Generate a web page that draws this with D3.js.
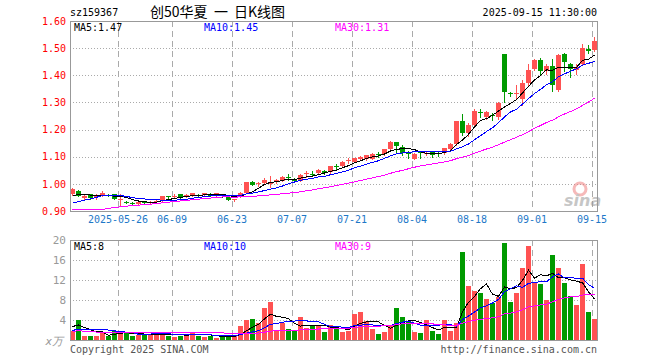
<!DOCTYPE html>
<html lang="zh">
<head>
<meta charset="UTF-8">
<title>创50华夏 日K线图</title>
<script src="https://cdn.jsdelivr.net/npm/d3@7/dist/d3.min.js"></script>
<style>
  body { margin: 0; background: #fff; }
  svg { display: block; font-family: "DejaVu Sans Mono", monospace; }
</style>
</head>
<body>
<svg width="660" height="360"></svg>
<script>
// trading days 2025-05-14 .. 2025-09-15
const dates = [
  '05-14','05-15','05-16','05-19','05-20','05-21','05-22','05-23','05-26','05-27','05-28','05-29','05-30',
  '06-03','06-04','06-05','06-06','06-09','06-10','06-11','06-12','06-13','06-16','06-17','06-18','06-19','06-20',
  '06-23','06-24','06-25','06-26','06-27','06-30',
  '07-01','07-02','07-03','07-04','07-07','07-08','07-09','07-10','07-11','07-14','07-15','07-16','07-17','07-18',
  '07-21','07-22','07-23','07-24','07-25','07-28','07-29','07-30','07-31',
  '08-01','08-04','08-05','08-06','08-07','08-08','08-11','08-12','08-13','08-14','08-15','08-18','08-19','08-20',
  '08-21','08-22','08-25','08-26','08-27','08-28','08-29',
  '09-01','09-02','09-03','09-04','09-05','09-08','09-09','09-10','09-11','09-12','09-15'
];

const open = [
  0.962,0.974,0.948,0.961,0.952,0.956,0.960,0.961,0.942,0.934,
  0.931,0.926,0.934,0.931,0.933,0.940,0.954,0.953,0.962,0.953,
  0.957,0.960,0.958,0.963,0.959,0.962,0.951,0.941,0.953,0.968,
  1.008,1.001,1.003,1.000,1.006,1.012,1.024,1.018,1.012,1.037,
  1.038,1.039,1.047,1.043,1.064,1.064,1.085,1.081,1.090,1.091,
  1.093,1.110,1.109,1.130,1.154,1.136,1.114,1.093,1.116,1.111,
  1.119,1.112,1.113,1.128,1.147,1.230,1.187,1.218,1.266,1.248,
  1.252,1.246,1.479,1.334,1.330,1.313,1.371,1.422,1.455,1.415,
  1.436,1.345,1.477,1.442,1.421,1.440,1.497,1.492
];
const high = [
  0.986,0.976,0.958,0.963,0.962,0.973,0.963,0.964,0.962,0.937,
  0.934,0.936,0.936,0.937,0.940,0.957,0.957,0.962,0.963,0.961,
  0.966,0.962,0.967,0.965,0.968,0.964,0.952,0.946,0.970,1.008,
  1.010,1.006,1.020,1.029,1.018,1.028,1.036,1.020,1.036,1.048,
  1.049,1.056,1.050,1.066,1.072,1.083,1.095,1.096,1.102,1.108,
  1.112,1.118,1.130,1.157,1.156,1.143,1.120,1.113,1.120,1.117,
  1.121,1.116,1.133,1.149,1.232,1.258,1.224,1.277,1.275,1.268,
  1.260,1.300,1.479,1.340,1.365,1.383,1.441,1.459,1.464,1.440,
  1.461,1.477,1.483,1.445,1.440,1.514,1.510,1.540
];
const low = [
  0.960,0.954,0.945,0.945,0.944,0.954,0.955,0.943,0.921,0.928,
  0.925,0.923,0.928,0.929,0.931,0.938,0.949,0.950,0.949,0.951,
  0.955,0.955,0.956,0.955,0.957,0.953,0.939,0.936,0.951,0.966,
  0.995,0.993,1.001,0.988,1.004,1.010,1.013,1.008,1.010,1.027,
  1.030,1.037,1.037,1.041,1.052,1.062,1.078,1.079,1.088,1.089,
  1.091,1.100,1.107,1.128,1.118,1.106,1.096,1.090,1.097,1.105,
  1.100,1.104,1.111,1.126,1.145,1.181,1.175,1.209,1.245,1.238,
  1.236,1.240,1.300,1.322,1.318,1.291,1.360,1.418,1.405,1.403,
  1.342,1.342,1.415,1.393,1.403,1.437,1.483,1.490
];
const close = [
  0.980,0.957,0.954,0.948,0.954,0.968,0.958,0.946,0.944,0.932,
  0.929,0.933,0.931,0.934,0.937,0.955,0.952,0.955,0.951,0.958,
  0.965,0.958,0.966,0.957,0.966,0.956,0.941,0.944,0.968,1.006,
  0.997,1.003,1.015,1.008,1.015,1.024,1.022,1.010,1.033,1.040,
  1.036,1.051,1.040,1.064,1.062,1.081,1.088,1.094,1.100,1.105,
  1.109,1.108,1.128,1.155,1.140,1.113,1.112,1.111,1.114,1.113,
  1.108,1.110,1.131,1.147,1.230,1.187,1.218,1.267,1.263,1.266,
  1.249,1.297,1.340,1.331,1.333,1.373,1.420,1.455,1.415,1.436,
  1.366,1.473,1.450,1.425,1.430,1.500,1.490,1.525
];
// volume, in 万
const volume = [
  1.8,4.1,0.9,0.7,0.7,1.7,0.7,1.9,1.6,1.6,
  0.7,1.0,1.0,1.0,1.6,1.2,0.9,0.6,0.9,1.2,
  1.7,0.9,0.55,0.7,0.5,0.7,0.7,0.9,2.8,4.1,
  4.3,3.5,6.4,7.6,1.8,3.4,2.2,1.8,4.7,2.5,
  3.0,2.8,1.6,3.0,2.2,1.7,1.9,5.2,5.7,3.7,
  2.2,1.3,1.6,3.0,6.5,4.6,3.6,1.6,1.4,4.0,
  1.8,1.3,4.0,1.8,3.5,17.6,10.8,9.9,9.5,8.2,
  7.4,8.6,19.4,7.6,9.4,14.5,18.8,11.4,11.3,8.1,
  17.1,14.5,11.4,8.9,7.0,15.3,5.6,4.3
];
// sessions before the window, only used to start the moving averages
const prevCloses = [
  0.965,0.962,0.958,0.960,0.955,0.860,0.845,0.870,0.850,0.880,
  0.872,0.878,0.880,0.876,0.870,0.878,0.885,0.888,0.890,0.895,
  0.898,0.902,0.900,0.897,0.903,0.945,0.950,0.958,0.955
];
const prevVolumes = [
  2.5,2.2,3.8,3.2,2.6,2.0,1.8,2.4,1.9,1.6,
  1.2,1.0,0.9,1.1,1.0,0.8,1.0,1.1,0.9,1.1,
  1.2,1.0,1.1,1.0,1.2,2.6,3.4,2.9,2.8
];

const priceTicks = [0.90, 1.00, 1.10, 1.20, 1.30, 1.40, 1.50, 1.60];
const volTicks = [4, 8, 12, 16, 20];
const dateTicks = ['05-26','06-09','06-23','07-07','07-21','08-04','08-18','09-01','09-15'];
const dateLabels = ['2025-05-26','06-09','06-23','07-07','07-21','08-04','08-18','09-01','09-15'];
const maPeriods = [5, 10, 30];
const maColors = ['#000000', '#0000ff', '#ff00ff'];
const priceMaText = ['MA5:1.47', 'MA10:1.45', 'MA30:1.31'];
const volMaText = ['MA5:8', 'MA10:10', 'MA30:9'];
const titleParts = ['创50华夏', '一', '日K线图'];

const svg = d3.select('svg');
const left = 70, right = 597;
const pTop = 21, pBottom = 211, vTop = 240, vBottom = 340;
const red = '#ff5252', green = '#009a00';

const x = d3.scaleBand().domain(dates).range([left, right]).paddingInner(1 / 6).paddingOuter(0);
const y = d3.scaleLinear().domain([0.90, 1.60]).range([pBottom, pTop]);
const yv = d3.scaleLinear().domain([0, 20]).range([vBottom, vTop]);

const bars = dates.map((d, i) => ({
  date: d, o: open[i], h: high[i], l: low[i], c: close[i], v: volume[i],
  color: close[i] >= open[i] ? red : green
}));

function movingAvg(prev, vals, n) {
  const all = prev.concat(vals);
  return vals.map((_, i) => {
    const end = prev.length + i;
    return d3.mean(all.slice(end - n + 1, end + 1));
  });
}

// header
svg.append('text').attr('x', 70).attr('y', 16).attr('font-size', 10).text('sz159367');
svg.selectAll('.title').data(titleParts).enter().append('text')
  .attr('x', (d, i) => [150, 214, 234][i]).attr('y', 17).attr('font-size', 14)
  .attr('font-family', '"Noto Sans CJK SC", sans-serif').text(d => d);
svg.append('text').attr('x', 597).attr('y', 16).attr('font-size', 10)
  .attr('text-anchor', 'end').text('2025-09-15 11:30:00');

// grids
const grid = svg.append('g').attr('shape-rendering', 'crispEdges');
grid.selectAll('.hp').data(priceTicks.slice(1, -1)).enter().append('line')
  .attr('x1', left).attr('x2', right)
  .attr('y1', d => Math.round(y(d)) + 0.5).attr('y2', d => Math.round(y(d)) + 0.5)
  .attr('stroke', '#aaa').attr('stroke-dasharray', '1,2');
grid.selectAll('.hv').data(volTicks.slice(0, -1)).enter().append('line')
  .attr('x1', left).attr('x2', right)
  .attr('y1', d => Math.round(yv(d)) + 0.5).attr('y2', d => Math.round(yv(d)) + 0.5)
  .attr('stroke', '#aaa').attr('stroke-dasharray', '1,2');
[[pTop, pBottom], [vTop, vBottom]].forEach(([t, b]) => {
  grid.selectAll(null).data(dateTicks).enter().append('line')
    .attr('x1', d => Math.round(x(d)) + 0.5).attr('x2', d => Math.round(x(d)) + 0.5)
    .attr('y1', t).attr('y2', b)
    .attr('stroke', '#aaa').attr('stroke-dasharray', '6,4');
});

// candles
const cg = svg.append('g').attr('shape-rendering', 'crispEdges');
cg.selectAll('.wick').data(bars).enter().append('line')
  .attr('x1', d => Math.round(x(d.date)) + 2.5).attr('x2', d => Math.round(x(d.date)) + 2.5)
  .attr('y1', d => Math.round(y(d.h))).attr('y2', d => Math.round(y(d.l)) + 1)
  .attr('stroke', d => d.color);
cg.selectAll('.body').data(bars).enter().append('rect')
  .attr('x', d => Math.round(x(d.date)))
  .attr('y', d => Math.round(y(Math.max(d.o, d.c))))
  .attr('width', 5)
  .attr('height', d => Math.max(1, Math.round(y(Math.min(d.o, d.c))) - Math.round(y(Math.max(d.o, d.c)))))
  .attr('fill', d => d.color);

// volume bars
cg.selectAll('.vol').data(bars).enter().append('rect')
  .attr('x', d => Math.round(x(d.date)))
  .attr('y', d => Math.round(yv(d.v)))
  .attr('width', 5)
  .attr('height', d => vBottom - Math.round(yv(d.v)))
  .attr('fill', d => d.color);

// moving averages
maPeriods.forEach((n, k) => {
  const pm = movingAvg(prevCloses, close, n);
  const vm = movingAvg(prevVolumes, volume, n);
  svg.append('path').datum(pm)
    .attr('fill', 'none').attr('stroke', maColors[k]).attr('stroke-width', 1)
    .attr('shape-rendering', 'crispEdges')
    .attr('d', d3.line().x((d, i) => x(dates[i]) + 2.5).y(d => y(d)));
  svg.append('path').datum(vm)
    .attr('fill', 'none').attr('stroke', maColors[k]).attr('stroke-width', 1)
    .attr('shape-rendering', 'crispEdges')
    .attr('d', d3.line().x((d, i) => x(dates[i]) + 2.5).y(d => yv(d)));
});

// frames
svg.append('g').attr('shape-rendering', 'crispEdges').selectAll('rect')
  .data([[pTop, pBottom], [vTop, vBottom]]).enter().append('rect')
  .attr('x', left + 0.5).attr('y', d => d[0] + 0.5)
  .attr('width', right - left).attr('height', d => d[1] - d[0])
  .attr('fill', 'none').attr('stroke', '#999');

// axes
const ay = svg.append('g').attr('transform', `translate(${left},0)`)
  .call(d3.axisLeft(y).tickValues(priceTicks).tickFormat(d3.format('.2f')).tickSize(0).tickPadding(4));
ay.select('.domain').remove();
ay.attr('font-family', null).attr('font-size', 10).selectAll('text').attr('fill', '#ff0000');

const av = svg.append('g').attr('transform', `translate(${left},0)`)
  .call(d3.axisLeft(yv).tickValues(volTicks).tickFormat(d3.format('d')).tickSize(0).tickPadding(4));
av.select('.domain').remove();
av.attr('font-family', null).attr('font-size', 11).selectAll('text').attr('fill', '#999');
svg.append('text').attr('x', 63).attr('y', 345).attr('text-anchor', 'end')
  .attr('font-size', 11).attr('fill', '#999').attr('font-style', 'italic').text('x万');

const ax = svg.append('g').attr('transform', `translate(${-x.bandwidth() / 2},${pBottom})`)
  .call(d3.axisBottom(x).tickValues(dateTicks).tickFormat((d, i) => dateLabels[i]).tickSize(0).tickPadding(5));
ax.select('.domain').remove();
ax.attr('font-family', null).attr('font-size', 10).selectAll('text').attr('fill', '#1e78c8');

// legends
[[priceMaText, 31], [volMaText, 250]].forEach(([texts, ty]) => {
  svg.selectAll(null).data(texts).enter().append('text')
    .attr('x', (d, i) => [74, 204, 335][i]).attr('y', ty)
    .attr('font-size', 10).attr('fill', (d, i) => maColors[i]).text(d => d);
});

// watermark
const wm = svg.append('g').attr('opacity', 0.55);
wm.append('circle').attr('cx', 580).attr('cy', 189).attr('r', 6)
  .attr('fill', 'none').attr('stroke', '#f08080').attr('stroke-width', 3);
wm.append('text').attr('x', 564).attr('y', 206).attr('font-size', 16)
  .attr('font-family', '"DejaVu Sans", sans-serif').attr('font-weight', 'bold')
  .attr('font-style', 'italic').attr('fill', '#999').text('sina');

// footer
svg.append('text').attr('x', 70).attr('y', 353).attr('font-size', 10).attr('fill', '#555')
  .text('Copyright 2025 SINA.COM');
svg.append('text').attr('x', 597).attr('y', 353).attr('font-size', 10).attr('fill', '#555')
  .attr('text-anchor', 'end').text('http://finance.sina.com.cn');
</script>
</body>
</html>
